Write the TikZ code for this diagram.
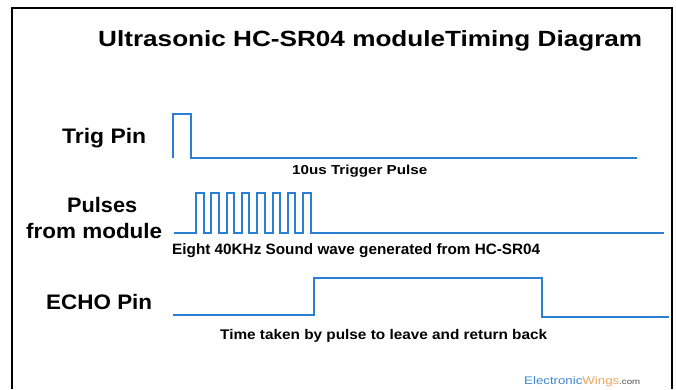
\documentclass[tikz,border=0pt]{standalone}
\usepackage{fontspec}
\setmainfont{Liberation Sans}
\usepackage{graphicx}
\definecolor{cWave}{HTML}{2A7FD5}
\definecolor{cEwBlue}{HTML}{3B86D2}
\definecolor{cEwOrange}{HTML}{F0A35A}
\definecolor{cEwGray}{HTML}{4A4A4A}
\newcommand{\fitw}[2]{\resizebox{#1}{\height}{#2}}

\begin{document}
\begin{tikzpicture}[x=1pt,y=-1pt,
  every node/.style={inner sep=0pt,anchor=base west},
  ttl/.style={font=\bfseries\fontsize{22}{22}\selectfont},
  pinlbl/.style={font=\bfseries\fontsize{21}{21}\selectfont},
  note/.style={font=\bfseries\fontsize{14}{14}\selectfont},
  sig/.style={cWave,line width=2pt},
  border/.style={black,line width=2.2pt}]
\useasboundingbox (0,0) rectangle (676,389);

% --- frame and title ---
\draw[border] (12,389) -- (12,8) -- (672,8) -- (672,389);
\node[ttl] (title) at (98,46) {\fitw{544pt}{Ultrasonic HC-SR04 moduleTiming Diagram}};

% --- pin labels ---
\node[pinlbl] (trig) at (62,143) {\fitw{84pt}{Trig Pin}};
\node[pinlbl] (puls) at (67,212) {\fitw{70pt}{Pulses}};
\node[pinlbl] (from) at (26,238) {\fitw{136pt}{from module}};
\node[pinlbl] (echo) at (46,309) {\fitw{106pt}{ECHO Pin}};

% --- waveforms ---
\draw[sig] (173,158) -- (173,114) -- (191,114) -- (191,158) -- (637,158);
\draw[sig] (174,233) -- (196,233)
  foreach \i in {1,...,8} { -- ++(0,-40) -- ++(7.5,0) -- ++(0,40) -- ++(7.8,0) }
  -- (664,233);
\draw[sig] (173,315) -- (314,315) -- (314,278) -- (542,278) -- (542,317) -- (669,317);

% --- notes ---
\node[note,font=\bfseries\fontsize{13}{13}\selectfont] (n1) at (292,174) {\fitw{135pt}{10us Trigger Pulse}};
\node[note,font=\bfseries\fontsize{15}{15}\selectfont] (n2) at (172,254) {\fitw{368pt}{Eight 40KHz Sound wave generated from HC-SR04}};
\node[note] (n3) at (220,339) {\fitw{327pt}{Time taken by pulse to leave and return back}};

% --- logo ---
\node[font=\fontsize{11}{11}\selectfont] (logo) at (524,384)
  {\fitw{116pt}{\textcolor{cEwBlue}{Electronic}\textcolor{cEwOrange}{Wings}\textcolor{cEwGray}{\fontsize{8}{8}\selectfont.com}}};
\end{tikzpicture}
\end{document}
